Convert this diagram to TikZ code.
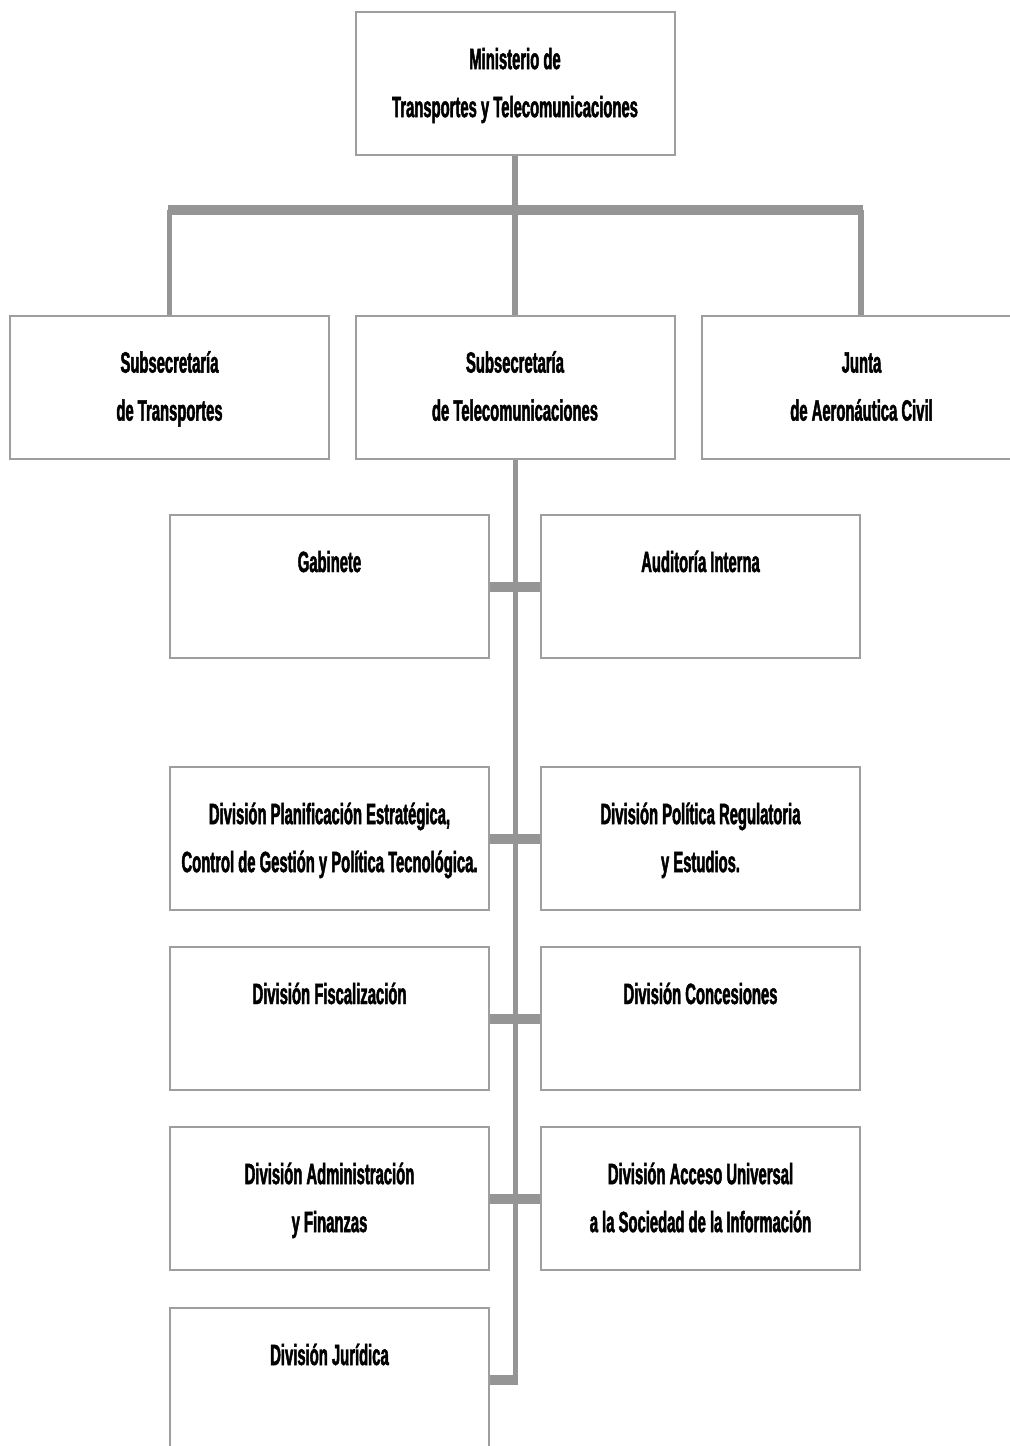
\documentclass[tikz,border=0pt]{standalone}
\usepackage{fontspec}
\newfontfamily\narrowfont[FakeStretch=0.505,FakeBold=1.6]{Liberation Sans}
\begin{document}
\begin{tikzpicture}[x=0.75pt,y=-0.75pt,
  box/.style={draw=boxgray,line width=1.5pt,fill=white,rectangle,inner sep=0pt,
    minimum width=239.25pt,minimum height=107.25pt,align=center,
    font=\narrowfont\bfseries\fontsize{22}{36}\selectfont},
  lbl/.style={inner sep=0pt,font=\narrowfont\bfseries\fontsize{22}{36}\selectfont},
  bar/.style={draw=linegray,line width=7.5pt},
  tickline/.style={draw=linegray,line width=7.5pt},
  stemline/.style={draw=linegray,line width=4.2pt},
  drop/.style={draw=linegray,line width=3.8pt}]
\definecolor{linegray}{HTML}{959595}
\definecolor{boxgray}{HTML}{9E9E9E}
\useasboundingbox (0,0) rectangle (1010,1446);
\clip (0,0) rectangle (1010,1446);
% top level
\node[box] (min) at (515,83.5) {\strut Ministerio de\\\strut Transportes y Telecomunicaciones};
\node[box] (st) at (169.5,387) {\strut Subsecretaría\\\strut de Transportes};
\node[box] (stel) at (515,387) {\strut Subsecretaría\\\strut de Telecomunicaciones};
\node[box] (jac) at (861.5,387) {\strut Junta\\\strut de Aeronáutica Civil};
% divisions
\node[box] (gab) at (329.5,586.5) {};
\node[box] (aud) at (700.5,586.5) {};
\node[box] (pla) at (329.5,838.5) {\strut División Planificación Estratégica,\\\strut Control de Gestión y Política Tecnológica.};
\node[box] (pol) at (700.5,838.5) {\strut División Política Regulatoria\\\strut y Estudios.};
\node[box] (fis) at (329.5,1018.5) {};
\node[box] (con) at (700.5,1018.5) {};
\node[box] (adm) at (329.5,1198.5) {\strut División Administración\\\strut y Finanzas};
\node[box] (acc) at (700.5,1198.5) {\strut División Acceso Universal\\\strut a la Sociedad de la Información};
\node[box] (jur) at (329.5,1379.5) {};
% one-line labels
\path (gab.north) ++(0,48.4) node[lbl] (gabt) {\strut Gabinete};
\path (aud.north) ++(0,48.4) node[lbl] (audt) {\strut Auditoría Interna};
\path (fis.north) ++(0,48.4) node[lbl] (fist) {\strut División Fiscalización};
\path (con.north) ++(0,48.4) node[lbl] (cont) {\strut División Concesiones};
\path (jur.north) ++(0,48.4) node[lbl] (jurt) {\strut División Jurídica};
% top connectors
\coordinate (jn) at (515,210);
\coordinate (jl) at (167.5,210);
\coordinate (jr) at (863,210);
\coordinate (jd) at (861,210);
\draw[stemline] (min.south) -- (jn);
\draw[drop] (st.north) -- (st.north |- jl);
\draw[drop] (stel.north) -- (jn);
\draw[drop] (jac.north -| jd) -- (jd);
\draw[bar] (jl) -- (jr);
% lower stem
\coordinate (send) at (515.5,1385);
\draw[stemline] (stel.south -| send) -- (send);
\draw[tickline] (gab.east) -- (aud.west);
\draw[tickline] (pla.east) -- (pol.west);
\draw[tickline] (fis.east) -- (con.west);
\draw[tickline] (adm.east) -- (acc.west);
\draw[tickline] (jur.east) -- (jur.east -| 518,0);
\end{tikzpicture}
\end{document}
